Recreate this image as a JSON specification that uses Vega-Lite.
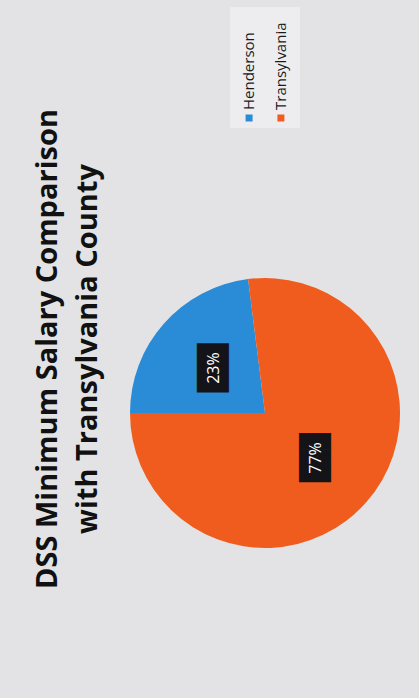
{
  "$schema": "https://vega.github.io/schema/vega-lite/v6.json",
  "background": "#e3e3e5",
  "padding": {"left": 33, "top": 7, "right": 21, "bottom": 150},
  "bounds": "flush",
  "center": true,
  "spacing": 150,
  "config": {"view": {"stroke": null}, "font": "Open Sans"},
  "datasets": {
    "pie": [
      {"cat": "Henderson", "value": 23, "label": "23%"},
      {"cat": "Transylvania", "value": 77, "label": "77%"}
    ]
  },
  "vconcat": [
    {
      "width": 70,
      "height": 121,
      "view": {"fill": "#ededef", "stroke": null},
      "data": {"name": "pie"},
      "encoding": {
        "x": {"field": "cat", "type": "nominal", "axis": null, "scale": {"padding": 0.6}}
      },
      "layer": [
        {
          "mark": {"type": "square", "size": 49, "yOffset": 50.5, "opacity": 1},
          "encoding": {
            "color": {
              "field": "cat", "type": "nominal", "legend": null,
              "scale": {"domain": ["Henderson", "Transylvania"], "range": ["#2a8bd6", "#f05c1e"]}
            }
          }
        },
        {
          "mark": {"type": "text", "angle": 270, "align": "left", "baseline": "middle", "yOffset": 42.5, "fontSize": 15, "color": "#1a1a1a"},
          "encoding": {"text": {"field": "cat"}}
        }
      ]
    },
    {
      "width": 270,
      "height": 270,
      "data": {"name": "pie"},
      "title": {
        "text": ["DSS Minimum Salary Comparison", "with Transylvania County"],
        "orient": "left",
        "anchor": "middle",
        "baseline": "bottom",
        "font": "Open Sans",
        "fontSize": 29,
        "fontWeight": "bold",
        "lineHeight": 40,
        "color": "#111111",
        "offset": -2,
        "dx": 64
      },
      "encoding": {
        "theta": {"field": "value", "type": "quantitative", "stack": true, "scale": {"range": [4.712389, 10.995574]}},
        "order": {"field": "value", "type": "quantitative"}
      },
      "layer": [
        {
          "mark": {"type": "arc"},
          "encoding": {
            "color": {
              "field": "cat", "type": "nominal", "legend": null,
              "scale": {"domain": ["Henderson", "Transylvania"], "range": ["#2a8bd6", "#f05c1e"]}
            }
          }
        },
        {
          "mark": {"type": "text", "radius": 68, "angle": 270, "font": "DejaVu Sans Mono", "fontSize": 27, "color": "#141418"},
          "encoding": {"text": {"value": "███"}}
        },
        {
          "mark": {"type": "text", "radius": 68, "angle": 270, "fontSize": 16, "color": "#ffffff"},
          "encoding": {"text": {"field": "label"}}
        }
      ]
    }
  ]
}
